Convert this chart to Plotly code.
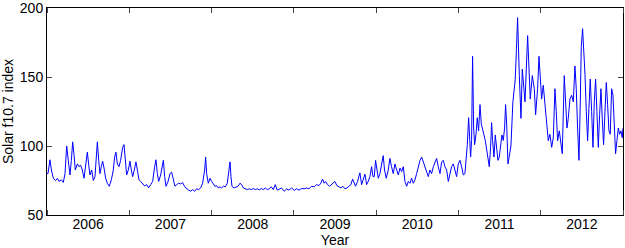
import plotly.graph_objects as go

# Time as decimal years, values of solar F10.7 index
years = [
    2006.000, 2006.012, 2006.036, 2006.053, 2006.077, 2006.105, 2006.126, 2006.146, 2006.174, 2006.198,
    2006.219, 2006.239, 2006.259, 2006.279, 2006.296, 2006.312, 2006.328, 2006.344, 2006.369, 2006.389,
    2006.409, 2006.429, 2006.450, 2006.470, 2006.490, 2006.506, 2006.522, 2006.543, 2006.563, 2006.583,
    2006.599, 2006.612, 2006.628, 2006.644, 2006.660, 2006.676, 2006.693, 2006.713, 2006.733, 2006.757,
    2006.782, 2006.806, 2006.822, 2006.838, 2006.855, 2006.875, 2006.895, 2006.919, 2006.936, 2006.952,
    2006.968, 2006.988, 2007.008, 2007.025, 2007.041, 2007.061, 2007.081, 2007.098, 2007.118, 2007.138,
    2007.162, 2007.187, 2007.211, 2007.235, 2007.260, 2007.284, 2007.308, 2007.324, 2007.341, 2007.357,
    2007.381, 2007.414, 2007.430, 2007.446, 2007.470, 2007.495, 2007.515, 2007.535, 2007.555, 2007.576,
    2007.600, 2007.624, 2007.648, 2007.673, 2007.697, 2007.721, 2007.746, 2007.770, 2007.794, 2007.819,
    2007.843, 2007.867, 2007.891, 2007.916, 2007.928, 2007.940, 2007.960, 2007.981, 2008.001, 2008.021,
    2008.041, 2008.062, 2008.082, 2008.102, 2008.122, 2008.143, 2008.167, 2008.191, 2008.211, 2008.224,
    2008.236, 2008.248, 2008.272, 2008.296, 2008.321, 2008.345, 2008.365, 2008.386, 2008.410, 2008.434,
    2008.458, 2008.483, 2008.507, 2008.531, 2008.556, 2008.580, 2008.604, 2008.628, 2008.653, 2008.677,
    2008.701, 2008.726, 2008.750, 2008.774, 2008.798, 2008.823, 2008.851, 2008.883, 2008.912, 2008.940,
    2008.973, 2009.005, 2009.033, 2009.062, 2009.094, 2009.126, 2009.155, 2009.183, 2009.216, 2009.248,
    2009.276, 2009.305, 2009.329, 2009.349, 2009.369, 2009.386, 2009.410, 2009.434, 2009.459, 2009.483,
    2009.499, 2009.523, 2009.548, 2009.572, 2009.596, 2009.621, 2009.645, 2009.669, 2009.693, 2009.714,
    2009.734, 2009.750, 2009.774, 2009.803, 2009.823, 2009.843, 2009.864, 2009.884, 2009.904, 2009.924,
    2009.945, 2009.961, 2009.977, 2009.993, 2010.009, 2010.026, 2010.046, 2010.066, 2010.086, 2010.102,
    2010.123, 2010.147, 2010.167, 2010.187, 2010.208, 2010.228, 2010.249, 2010.269, 2010.290, 2010.310,
    2010.330, 2010.350, 2010.371, 2010.391, 2010.411, 2010.431, 2010.452, 2010.472, 2010.492, 2010.512,
    2010.533, 2010.553, 2010.573, 2010.593, 2010.614, 2010.634, 2010.654, 2010.674, 2010.695, 2010.715,
    2010.735, 2010.755, 2010.776, 2010.796, 2010.816, 2010.836, 2010.857, 2010.877, 2010.897, 2010.917,
    2010.938, 2010.958, 2010.978, 2010.998, 2011.019, 2011.039, 2011.059, 2011.079, 2011.091, 2011.108,
    2011.124, 2011.136, 2011.148, 2011.160, 2011.172, 2011.185, 2011.197, 2011.213, 2011.229, 2011.245,
    2011.262, 2011.278, 2011.294, 2011.310, 2011.326, 2011.343, 2011.359, 2011.375, 2011.391, 2011.403,
    2011.415, 2011.432, 2011.448, 2011.464, 2011.480, 2011.496, 2011.513, 2011.529, 2011.545, 2011.561,
    2011.573, 2011.586, 2011.602, 2011.618, 2011.638, 2011.662, 2011.690, 2011.705, 2011.719, 2011.740,
    2011.760, 2011.776, 2011.792, 2011.809, 2011.841, 2011.857, 2011.873, 2011.898, 2011.922, 2011.938,
    2011.962, 2011.979, 2011.995, 2012.011, 2012.031, 2012.052, 2012.076, 2012.092, 2012.112, 2012.133,
    2012.153, 2012.173, 2012.189, 2012.205, 2012.226, 2012.246, 2012.262, 2012.286, 2012.303, 2012.319,
    2012.335, 2012.355, 2012.376, 2012.396, 2012.416, 2012.432, 2012.448, 2012.465, 2012.481, 2012.493,
    2012.509, 2012.525, 2012.538, 2012.554, 2012.570, 2012.586, 2012.602, 2012.619, 2012.635, 2012.651,
    2012.667, 2012.683, 2012.700, 2012.716, 2012.732, 2012.748, 2012.764, 2012.781, 2012.797, 2012.813,
    2012.829, 2012.845, 2012.862, 2012.878, 2012.894, 2012.910, 2012.926, 2012.943, 2012.959, 2012.975,
    2012.991, 2013.000,
]

f107 = [
    80, 80, 90, 82.6, 76.6, 75, 76.5, 74.3, 75.5, 73.6,
    80, 100, 89.6, 79, 89.6, 103, 94, 82.6, 87, 85,
    86, 82.6, 76.6, 85, 95.5, 87, 79, 82.6, 75, 77.8,
    94, 103, 89.6, 80, 85, 89, 84, 76.6, 73, 70.8,
    75.5, 82.6, 92, 95.5, 87, 85, 89.6, 99, 101, 87,
    79, 82.6, 89, 82.6, 77.8, 82.6, 88.5, 82.6, 75.5, 74.3,
    73, 71, 72, 69.7, 72, 74.3, 85, 90, 80, 74.3,
    79, 89.6, 77.8, 70.8, 74, 80, 81, 75.5, 70.8, 72,
    73, 72.5, 73.5, 70.5, 69, 68, 67.2, 68.4, 67.2, 69,
    68.4, 69.6, 73, 82.6, 92, 80, 73, 76.6, 74.3, 72,
    70.8, 71.2, 69.6, 70.4, 69.6, 70.8, 70.4, 73, 82.6, 88.5,
    77.8, 70.8, 69.6, 70.4, 70.8, 73, 72, 69.6, 69, 68.4,
    69, 68.4, 69.2, 68.4, 69, 68.2, 69.2, 68.4, 69.6, 68.4,
    69, 70.4, 68.4, 72, 68, 69, 69.6, 67.2, 68.9, 68,
    69.6, 67.8, 69, 68, 69.2, 69, 69.6, 69, 70.8, 70.4,
    72, 71.3, 73.1, 76, 73, 74.3, 72, 70.8, 72, 73,
    74.3, 71.3, 70.4, 69.6, 70.8, 69, 69.6, 70.8, 72, 76,
    72.6, 70.8, 74.3, 80.6, 72, 76.6, 79.6, 72, 74.3, 77.8,
    85, 77.8, 77.8, 89.6, 82.6, 76.6, 80, 87, 93, 82.6,
    76.6, 82.6, 91, 85, 80, 87, 82.6, 79, 84, 81.5,
    85, 74.3, 70.8, 74.3, 73, 76.6, 73, 75.5, 80, 85,
    89.6, 92, 88.5, 86, 82.6, 77.8, 82.6, 80, 85, 88.5,
    91, 85, 80, 88.5, 89.6, 85, 82.6, 74.3, 80, 85,
    87, 82.6, 77.8, 87, 89.6, 85, 79, 80, 87, 101,
    120.5, 108, 92, 104, 165, 113, 101, 108, 120.5, 111,
    130, 116, 111, 108, 104, 96.7, 89.6, 85, 99, 117,
    104, 92, 108, 96.7, 89.6, 92, 101, 108, 104, 113,
    130, 116, 87, 92, 100, 132, 148, 170, 193, 151,
    120, 155.7, 141.5, 132, 180, 160, 134, 151, 141.5, 122.7,
    141.5, 165, 146, 134, 144, 132, 113, 103.8, 108.5, 99,
    106, 141.5, 125, 103.8, 111, 101, 94.4, 151, 125, 113,
    120, 134, 136.8, 132, 158, 141.5, 113, 89.6, 132, 172,
    185, 170, 152, 125, 103.8, 127.4, 148.5, 125, 99, 132,
    148.5, 125, 99, 122.7, 141.5, 120, 101, 125, 146, 130,
    111, 108.5, 141.5, 136.8, 113, 94.4, 103.8, 113, 108.5, 111,
    106, 113,
]

year_labels = ["2006", "2007", "2008", "2009", "2010", "2011", "2012"]
label_positions = [2006.5, 2007.5, 2008.5, 2009.5, 2010.5, 2011.5, 2012.5]
year_boundaries = [2006, 2007, 2008, 2009, 2010, 2011, 2012, 2013]
y_ticks = [50, 100, 150, 200]

FONT = "Arial, 'Liberation Sans', sans-serif"
FS = 14

fig = go.Figure()
fig.add_trace(go.Scatter(
    x=years, y=f107, mode="lines",
    line=dict(color="#0000ff", width=1),
    showlegend=False,
))

fig.update_layout(
    width=625, height=248,
    margin=dict(l=47, r=2, t=8, b=33, autoexpand=False),
    paper_bgcolor="white", plot_bgcolor="white",
    font=dict(family=FONT, size=FS, color="black"),
)

fig.update_xaxes(
    range=[2006, 2013], automargin=False,
    tickmode="array", tickvals=label_positions, ticktext=year_labels,
    ticks="", showgrid=False, zeroline=False,
    showline=True, linecolor="black", linewidth=1, mirror="ticks",
    minor=dict(tickmode="array", tickvals=year_boundaries, ticks="inside",
               ticklen=5, tickcolor="#444", showgrid=False),
    ticklabelstandoff=-4,
    title=dict(text="Year", font=dict(family=FONT, size=FS)),
    tickfont=dict(family=FONT, size=FS),
)

fig.update_yaxes(
    range=[49.99, 200.01], automargin=False,
    tickmode="array", tickvals=y_ticks,
    ticks="inside", ticklen=5, tickcolor="#444",
    showgrid=False, zeroline=False,
    showline=True, linecolor="black", linewidth=1, mirror="ticks",
    ticklabeloverflow="allow",
    title=dict(text="Solar f10.7 index", font=dict(family=FONT, size=FS)),
    tickfont=dict(family=FONT, size=FS),
)

fig.write_html(
    "out.html",
    config={"responsive": False, "displayModeBar": False},
    post_script="document.body.style.margin='0';document.body.style.padding='0';",
)
